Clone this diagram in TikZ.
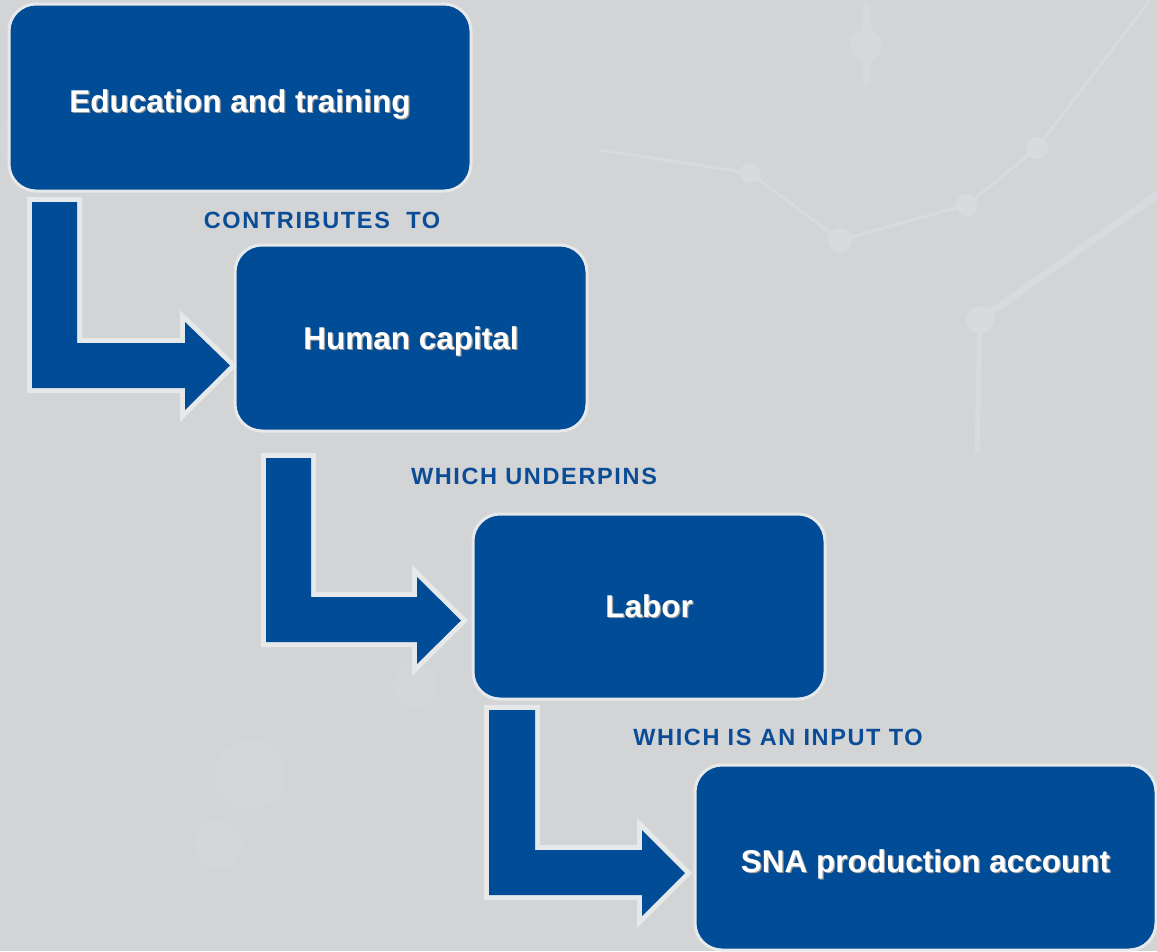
\documentclass[tikz,border=0pt]{standalone}
\usepackage{fontspec}
\setmainfont{Liberation Sans}
\newfontfamily\lblfont[LetterSpace=7]{Liberation Sans}
\definecolor{bgc}{HTML}{D3D4D6}
\definecolor{deco}{HTML}{D8DBDD}
\definecolor{boxblue}{HTML}{004C97}
\definecolor{lblblue}{HTML}{0A4C96}
\definecolor{edge}{HTML}{E7E8E9}
\newcommand\shtext[1]{\makebox[0pt][l]{\hspace{1.3pt}\raisebox{-1.3pt}{\color{black!40}#1}}#1}
\tikzset{
  stagebox/.style={rectangle, rounded corners=27pt, fill=boxblue, draw=edge, line width=3pt,
    text=white, font=\bfseries\fontsize{31.5}{36}\selectfont, inner sep=0pt,
    text height=22pt, text depth=0pt},
  lbl/.style={text=lblblue, font=\lblfont\bfseries\fontsize{23.5}{27}\selectfont, inner sep=0pt,
    text height=17pt, text depth=0pt},
  blockarrow/.style={fill=boxblue, preaction={draw=edge, line width=10pt}},
  decoline/.style={draw=deco, line width=3pt, line cap=round},
  decodot/.style={fill=deco}
}
\begin{document}
\begin{tikzpicture}[x=1pt,y=-1pt]
\useasboundingbox (0,0) rectangle (1157,951);
\fill[bgc] (0,0) rectangle (1157,951);
% faint background decoration
\draw[decoline] (600,150) -- (750,173) -- (840,240) -- (967,205) -- (1037,148) -- (1150,0);
\fill[decodot] (750,173) circle (10);
\fill[decodot] (840,240) circle (12);
\fill[decodot] (967,205) circle (11);
\fill[decodot] (1037,148) circle (11);
\draw[decoline, line width=7pt] (980,320) -- (1157,195);
\draw[decoline, line width=5pt] (980,320) -- (977,450);
\fill[decodot] (980,320) circle (14);
\draw[decoline, line width=9pt, draw=deco!60!bgc] (866,8) -- (866,80);
\fill[deco!60!bgc] (866,45) circle (16);
\fill[deco, opacity=0.35] (30,140) circle (30);
\fill[deco, opacity=0.35] (250,775) circle (35);
\fill[deco, opacity=0.35] (218,845) circle (24);
\fill[deco, opacity=0.35] (415,685) circle (22);
% block arrows
\path[blockarrow] (32,202) -- (77,202) -- (77,343) -- (185,343) -- (185,322) -- (230,365.5) -- (185,410) -- (185,388) -- (32,388) -- cycle;
\path[blockarrow] (266,458) -- (311,458) -- (311,597) -- (417,597) -- (417,577) -- (461,620.5) -- (417,664) -- (417,642) -- (266,642) -- cycle;
\path[blockarrow] (489,710) -- (535,710) -- (535,850) -- (642,850) -- (642,830) -- (685,873) -- (642,916) -- (642,895) -- (489,895) -- cycle;
% boxes
\node[stagebox, minimum width=462pt, minimum height=187pt] (b1) at (240,97.5) {\raisebox{-3.5pt}{\shtext{Education and training}}};
\node[stagebox, minimum width=352pt, minimum height=186pt] (b2) at (411,338) {\shtext{Human capital}};
\node[stagebox, minimum width=352pt, minimum height=185pt] (b3) at (649,606.5) {\shtext{Labor}};
\node[stagebox, minimum width=461pt, minimum height=185pt] (b4) at (925.5,857.5) {\raisebox{-4pt}{\shtext{SNA production account}}};
% labels
\node[lbl] (l1) at (322,219.5) {CONTRIBUTES\ \ TO};
\node[lbl] (l2) at (534,475.5) {WHICH UNDERPINS};
\node[lbl] (l3) at (778,737) {WHICH IS AN INPUT TO};
\end{tikzpicture}
\end{document}
